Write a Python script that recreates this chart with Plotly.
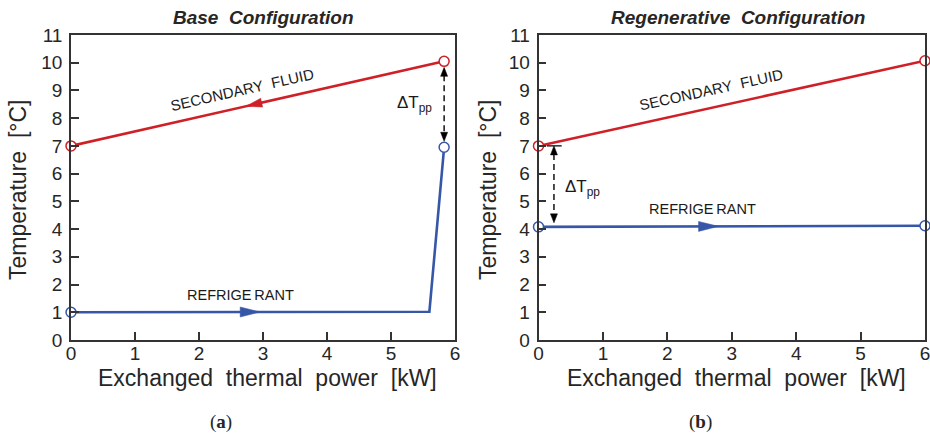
import numpy as np
import plotly.graph_objects as go

# ---- data -------------------------------------------------------------
power_ticks = [0, 1, 2, 3, 4, 5, 6]
temp_ticks = list(range(0, 12))

# Base configuration
base_sec_power = [0.0, 5.83]
base_sec_temp = [7.0, 10.05]
base_ref_power = [0.0, 5.6, 5.83]
base_ref_temp = [1.0, 1.02, 6.95]

# Regenerative configuration
regen_sec_power = [0.0, 6.0]
regen_sec_temp = [7.0, 10.07]
regen_ref_power = [0.0, 6.0]
regen_ref_temp = [4.08, 4.12]

# ---- style ------------------------------------------------------------
W, H = 930, 435
RED = "#cf2027"
BLUE = "#3656a8"
AXC = "#333333"
TXT = "#262626"
FONT = "Liberation Sans, Arial, sans-serif"

# plot areas in pixels (left, right, top, bottom)
areas = [(71, 455, 35, 340), (538.5, 925, 35, 340)]
XR, YR = (0, 6), (0, 11)


def scales(i):
    l, r, t, b = areas[i]
    return (r - l) / (XR[1] - XR[0]), (b - t) / (YR[1] - YR[0])


def arrow_poly(p0, p1, frac, length, width, sx, sy):
    """Filled triangle lying on segment p0->p1, pointing towards p1."""
    x = p0[0] + (p1[0] - p0[0]) * frac
    y = p0[1] + (p1[1] - p0[1]) * frac
    dx, dy = (p1[0] - p0[0]) * sx, (p1[1] - p0[1]) * sy
    n = np.hypot(dx, dy)
    ux, uy = dx / n, dy / n
    nx, ny = -uy, ux
    tip = (x + ux * length / 2 / sx, y + uy * length / 2 / sy)
    bx, by = x - ux * length / 2 / sx, y - uy * length / 2 / sy
    b1 = (bx + nx * width / 2 / sx, by + ny * width / 2 / sy)
    b2 = (bx - nx * width / 2 / sx, by - ny * width / 2 / sy)
    return [tip[0], b1[0], b2[0], tip[0]], [tip[1], b1[1], b2[1], tip[1]]


def head(x, y, direction, sx, sy, length=9, width=7):
    """Small vertical arrowhead with tip at (x, y)."""
    s = 1 if direction == "up" else -1
    by = y - s * length / sy
    return [x, x - width / 2 / sx, x + width / 2 / sx, x], [y, by, by, y]


fig = go.Figure()

# ref_frac: position of the flow arrow along the first refrigerant segment
panels = [
    dict(sec=(base_sec_power, base_sec_temp), ref=(base_ref_power, base_ref_temp),
         sec_dir="left", sec_frac=0.49, ref_frac=0.5),
    dict(sec=(regen_sec_power, regen_sec_temp), ref=(regen_ref_power, regen_ref_temp),
         sec_dir=None, sec_frac=None, ref_frac=0.44),
]

for i, p in enumerate(panels):
    xa = "x" if i == 0 else "x2"
    ya = "y" if i == 0 else "y2"
    sx, sy = scales(i)
    for (px, py), col in ((p["sec"], RED), (p["ref"], BLUE)):
        fig.add_trace(go.Scatter(
            x=px, y=py, xaxis=xa, yaxis=ya, mode="lines",
            line=dict(color=col, width=2.6), cliponaxis=False, hoverinfo="skip"))
        fig.add_trace(go.Scatter(
            x=[px[0], px[-1]], y=[py[0], py[-1]], xaxis=xa, yaxis=ya, mode="markers",
            marker=dict(symbol="circle", size=10, color="white",
                        line=dict(color=col, width=1.5)),
            cliponaxis=False, hoverinfo="skip"))
    # flow direction arrows
    rp, rt = p["ref"]
    ax_, ay_ = arrow_poly((rp[0], rt[0]), (rp[1], rt[1]), p["ref_frac"], 20, 10, sx, sy)
    fig.add_trace(go.Scatter(x=ax_, y=ay_, xaxis=xa, yaxis=ya, mode="lines",
                             fill="toself", fillcolor=BLUE, line=dict(color=BLUE, width=0.5),
                             hoverinfo="skip"))
    if p["sec_dir"] == "left":
        sp, st = p["sec"]
        ax_, ay_ = arrow_poly((sp[1], st[1]), (sp[0], st[0]), 1 - p["sec_frac"],
                              16, 9, sx, sy)
        fig.add_trace(go.Scatter(x=ax_, y=ay_, xaxis=xa, yaxis=ya, mode="lines",
                                 fill="toself", fillcolor=RED, line=dict(color=RED, width=0.5),
                                 hoverinfo="skip"))

# ---- pinch point markers (dashed double arrows) -------------------------
sx0, sy0 = scales(0)
xp = base_sec_power[-1]
top, bot = base_sec_temp[-1] - 6 / sy0, base_ref_temp[-1] + 6 / sy0
fig.add_trace(go.Scatter(x=[xp, xp], y=[top - 8 / sy0, bot + 8 / sy0], mode="lines",
                         line=dict(color="black", width=1.4, dash="6px,4px"), hoverinfo="skip"))
for yy, d in ((top, "up"), (bot, "down")):
    hx, hy = head(xp, yy, d, sx0, sy0)
    fig.add_trace(go.Scatter(x=hx, y=hy, mode="lines", fill="toself", fillcolor="black",
                             line=dict(color="black", width=0.5), hoverinfo="skip"))

sx1, sy1 = scales(1)
xq = 0.24
top2, bot2 = regen_sec_temp[0], regen_ref_temp[0] + 4 / sy1
fig.add_trace(go.Scatter(x=[xq - 0.11, xq + 0.12], y=[top2, top2], xaxis="x2", yaxis="y2",
                         mode="lines", line=dict(color="black", width=1.3), hoverinfo="skip"))
fig.add_trace(go.Scatter(x=[xq, xq], y=[top2 - 8 / sy1, bot2 + 8 / sy1], xaxis="x2", yaxis="y2",
                         mode="lines", line=dict(color="black", width=1.4, dash="6px,4px"),
                         hoverinfo="skip"))
for yy, d in ((top2, "up"), (bot2, "down")):
    hx, hy = head(xq, yy, d, sx1, sy1)
    fig.add_trace(go.Scatter(x=hx, y=hy, xaxis="x2", yaxis="y2", mode="lines", fill="toself",
                             fillcolor="black", line=dict(color="black", width=0.5),
                             hoverinfo="skip"))

# ---- axes ---------------------------------------------------------------
def px_dom(a, b, total):
    return [a / total, b / total]


axis_common = dict(showgrid=False, zeroline=False, showline=True, linecolor=AXC, linewidth=1.5,
                   mirror=True, ticks="inside", ticklen=8, tickwidth=1.5, tickcolor=AXC,
                   automargin=False, ticklabeloverflow="allow",
                   tickfont=dict(family=FONT, size=19, color=TXT))

layout_axes = {}
for i, (xa, ya) in enumerate((("xaxis", "yaxis"), ("xaxis2", "yaxis2"))):
    l, r, t, b = areas[i]
    layout_axes[xa] = dict(axis_common, domain=px_dom(l, r, W), range=list(XR),
                           tickvals=power_ticks, anchor="y" if i == 0 else "y2",
                           ticklabelstandoff=-5)
    layout_axes[ya] = dict(axis_common, domain=[1 - b / H, 1 - t / H], range=list(YR),
                           tickvals=temp_ticks, anchor="x" if i == 0 else "x2",
                           ticklabelstandoff=3)

fig.update_layout(width=W, height=H, margin=dict(l=0, r=0, t=0, b=0),
                  paper_bgcolor="white", plot_bgcolor="white", showlegend=False,
                  font=dict(family=FONT, color=TXT), **layout_axes)

# ---- text -----------------------------------------------------------------
ann = []


def paper_text(text, px, py, size, **kw):
    ann.append(dict(text=text, x=px / W, y=1 - py / H, xref="paper", yref="paper",
                    showarrow=False, xanchor="center", yanchor="middle",
                    font=dict(family=kw.pop("family", FONT), size=size, color=TXT), **kw))


paper_text("<b><i>Base\u00a0\u00a0Configuration</i></b>", 263, 18, 19)
paper_text("<b><i>Regenerative\u00a0\u00a0Configuration</i></b>", 738, 18, 19)
for cx, cy in ((18, 190), (488, 190)):
    paper_text("Temperature\u00a0\u00a0[°C]", cx, cy, 23, textangle=-90)
for cx in (267, 736):
    paper_text("Exchanged\u00a0\u00a0thermal\u00a0\u00a0power\u00a0\u00a0[kW]", cx, 378, 23)
paper_text("(<b>a</b>)", 221, 422, 19, family="Liberation Serif, serif")
paper_text("(<b>b</b>)", 700, 422, 19, family="Liberation Serif, serif")

for i, (xr, yr) in enumerate((("x", "y"), ("x2", "y2"))):
    sx, sy = scales(i)
    sec = panels[i]["sec"]
    ang = -np.degrees(np.arctan2((sec[1][1] - sec[1][0]) * sy, (sec[0][1] - sec[0][0]) * sx))
    ann.append(dict(text="SECONDARY\u00a0\u00a0FLUID", x=2.68, y=9.02, xref=xr, yref=yr,
                    showarrow=False, textangle=ang,
                    font=dict(family=FONT, size=15, color="#1a1a1a")))

ann.append(dict(text="REFRIGE\u2009RANT", x=2.65, y=1.62, xref="x", yref="y", showarrow=False,
                font=dict(family=FONT, size=14.5, color="#1a1a1a")))
ann.append(dict(text="REFRIGE\u2009RANT", x=2.55, y=4.72, xref="x2", yref="y2", showarrow=False,
                font=dict(family=FONT, size=14.5, color="#1a1a1a")))
ann.append(dict(text="ΔT<sub>pp</sub>", x=5.37, y=8.5, xref="x", yref="y", showarrow=False,
                font=dict(family=FONT, size=17, color="#1a1a1a")))
ann.append(dict(text="ΔT<sub>pp</sub>", x=0.68, y=5.5, xref="x2", yref="y2", showarrow=False,
                font=dict(family=FONT, size=17, color="#1a1a1a")))

fig.update_layout(annotations=ann)
fig.write_html("out.html")
